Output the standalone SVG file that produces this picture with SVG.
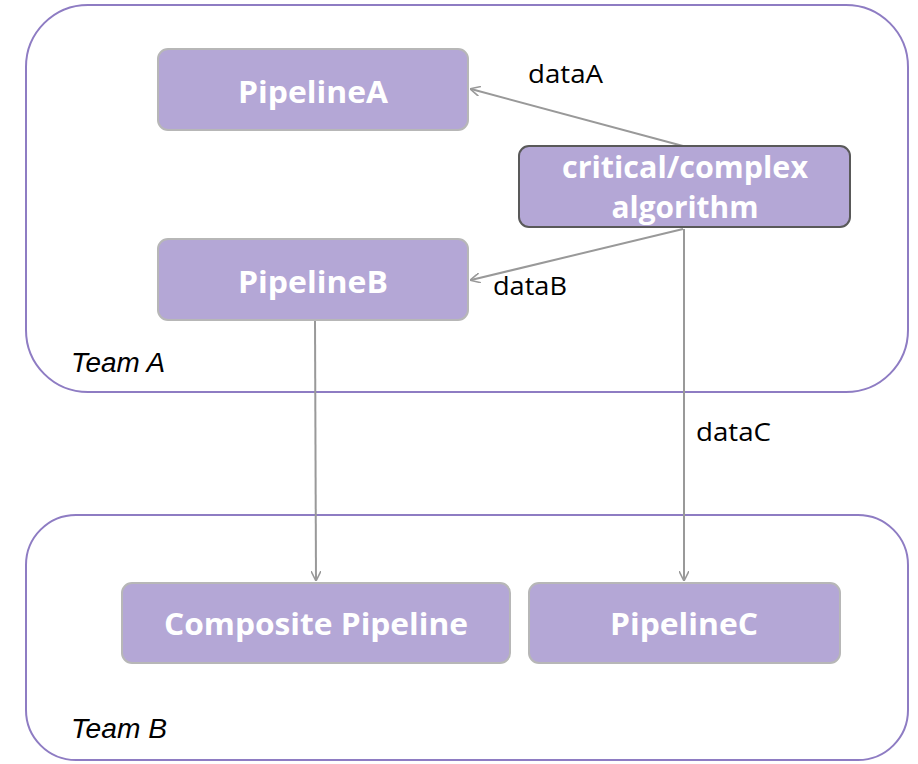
<svg xmlns="http://www.w3.org/2000/svg" width="918" height="764" viewBox="0 0 918 764">
  <style>
    .team { fill: #ffffff; stroke: #8e7cc3; stroke-width: 2; }
    .node rect { fill: #b4a7d6; stroke: #b7b7b7; stroke-width: 2; }
    .node.dark rect { stroke: #595959; }
    .node text { fill: #ffffff; font-family: "Open Sans", Lato, sans-serif; font-weight: bold; font-size: 30px; text-anchor: middle; }
    .label { fill: #000000; font-family: "Open Sans", Lato, sans-serif; font-size: 25px; }
    .teamlabel { fill: #000000; font-family: "Liberation Sans", Arial, sans-serif; font-style: italic; font-size: 27px; }
    .edge { fill: none; stroke: #999999; stroke-width: 2; marker-end: url(#arrow); }
  </style>
  <defs>
    <marker id="arrow" viewBox="0 0 10 10" refX="9" refY="5" markerWidth="5" markerHeight="5" orient="auto" markerUnits="strokeWidth">
      <path d="M0,0 L10,5 L0,10" fill="none" stroke="#999999" stroke-width="1.6"/>
    </marker>
  </defs>

  <!-- team containers -->
  <g id="teamA">
    <rect class="team" x="26" y="5" width="882" height="387" rx="62" ry="62"/>
    <text class="teamlabel" x="71" y="372" textLength="94" lengthAdjust="spacingAndGlyphs">Team A</text>
  </g>
  <g id="teamB">
    <rect class="team" x="26" y="515" width="882" height="245" rx="50" ry="50"/>
    <text class="teamlabel" x="71" y="738" textLength="96" lengthAdjust="spacingAndGlyphs">Team B</text>
  </g>

  <!-- connectors -->
  <g id="connectors">
    <line class="edge" x1="683" y1="146" x2="471" y2="89"/>
    <line class="edge" x1="683" y1="229" x2="471" y2="280"/>
    <line class="edge" x1="684" y1="229" x2="684" y2="580"/>
    <line class="edge" x1="315" y1="320" x2="316" y2="580"/>
    <text class="label" x="528" y="83" textLength="75" lengthAdjust="spacingAndGlyphs">dataA</text>
    <text class="label" x="493" y="295" textLength="74" lengthAdjust="spacingAndGlyphs">dataB</text>
    <text class="label" x="696" y="441" textLength="75" lengthAdjust="spacingAndGlyphs">dataC</text>
  </g>

  <!-- nodes -->
  <g id="pipelineA" class="node">
    <rect x="158" y="49" width="310" height="81" rx="10" ry="10"/>
    <text x="313" y="103" textLength="150" lengthAdjust="spacingAndGlyphs">PipelineA</text>
  </g>
  <g id="algorithm" class="node dark">
    <rect x="519" y="146" width="331" height="81" rx="10" ry="10"/>
    <text x="685" y="178" textLength="246" lengthAdjust="spacingAndGlyphs">critical/complex</text>
    <text x="685" y="218" textLength="147" lengthAdjust="spacingAndGlyphs">algorithm</text>
  </g>
  <g id="pipelineB" class="node">
    <rect x="158" y="239" width="310" height="81" rx="10" ry="10"/>
    <text x="313" y="293" textLength="150" lengthAdjust="spacingAndGlyphs">PipelineB</text>
  </g>
  <g id="composite" class="node">
    <rect x="122" y="583" width="388" height="80" rx="10" ry="10"/>
    <text x="316" y="635" textLength="304" lengthAdjust="spacingAndGlyphs">Composite Pipeline</text>
  </g>
  <g id="pipelineC" class="node">
    <rect x="529" y="583" width="311" height="80" rx="10" ry="10"/>
    <text x="684" y="635" textLength="148" lengthAdjust="spacingAndGlyphs">PipelineC</text>
  </g>
</svg>
